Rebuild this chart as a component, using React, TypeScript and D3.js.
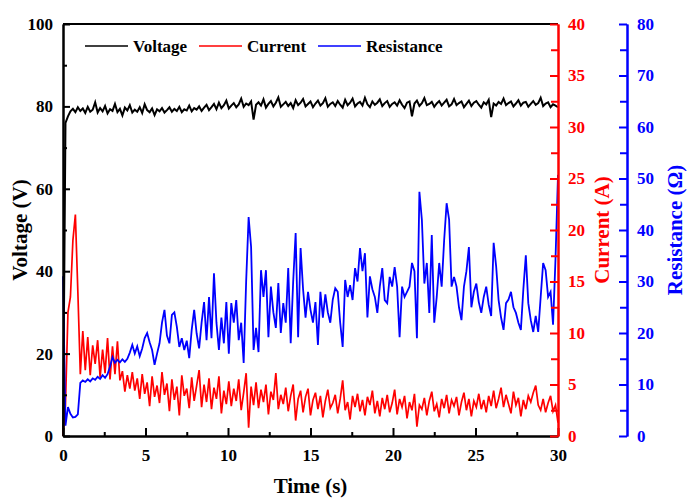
import { useEffect, useRef } from "react"
import * as d3 from "d3"

// sampling step of all three traces (s)
const timeStep = 0.15

const voltage = [
  0, 76.0, 77.6, 78.8, 79.4, 78.6, 79.8, 78.9, 79.5, 78.4,
  79.9, 78.7, 79.2, 81.0, 78.5, 79.6, 78.8, 80.1, 78.3, 79.3,
  78.9, 80.6, 78.6, 79.4, 77.8, 79.7, 79.0, 80.3, 78.5, 79.2,
  78.7, 79.8, 78.4, 80.5, 79.1, 78.6, 79.5, 77.9, 79.3, 78.8,
  79.6, 78.5, 79.1, 79.8, 78.7, 79.4, 78.9, 79.9, 78.6, 79.3,
  79.0, 80.2, 78.8, 79.6, 79.2, 80.0, 78.9, 79.7, 80.4, 79.1,
  79.8, 80.6, 79.3, 80.9, 79.6, 80.3, 81.4, 79.5, 80.2, 80.8,
  79.8, 80.5, 81.9, 79.9, 80.7, 80.3, 81.2, 76.8, 80.4, 81.0,
  80.2, 81.7, 79.7, 80.6, 81.3, 80.0, 80.9, 82.2, 79.9, 80.5,
  81.1, 80.1, 80.8, 79.6, 81.5, 80.3, 80.9, 81.8, 80.0, 80.6,
  81.2, 79.8, 80.7, 81.4, 80.2, 80.8, 82.0, 79.9, 80.6, 81.0,
  80.1, 81.3, 80.4, 79.7, 81.6, 80.3, 80.9, 81.9, 80.0, 80.7,
  81.1, 80.2, 82.1, 80.5, 79.8, 81.2, 80.4, 80.9, 81.7, 80.1,
  80.8, 81.3, 79.9, 80.6, 81.0, 80.2, 81.5, 80.4, 79.6, 80.9,
  81.2, 77.6, 80.7, 81.4, 80.1, 80.8, 82.0, 80.3, 80.6, 81.1,
  79.9, 80.7, 81.3, 80.2, 80.9, 81.6, 80.0, 80.5, 81.8, 80.3,
  80.8, 81.2, 79.8, 80.6, 81.4, 80.1, 80.9, 81.3, 80.4, 79.7,
  81.0, 80.5, 81.6, 77.4, 80.7, 80.2, 81.1, 80.6, 81.9, 80.3,
  80.8, 81.2, 80.0, 80.7, 81.5, 80.2, 80.9, 81.1, 79.9, 80.6,
  81.3, 80.4, 80.8, 82.1, 80.1, 80.7, 81.0, 79.8, 80.5, 80.2,
  79.8,
]

const current = [
  0, 3, 12, 13.5, 19, 21.5, 14, 6, 10.2, 6.4,
  9.6, 5.9, 8.8, 7.0, 9.3, 5.7, 8.4, 6.1, 9.5, 5.5,
  8.7, 6.0, 9.2, 5.4, 6.3, 4.3, 5.9, 4.6, 6.2, 4.4,
  5.6, 3.6, 6.0, 4.1, 5.2, 2.9, 5.8, 3.8, 4.9, 3.2,
  6.2, 4.0, 5.1, 2.4, 5.5, 3.5, 4.8, 2.0, 5.9, 3.9,
  4.6, 2.7, 5.7, 3.4, 4.9, 6.4, 2.8, 5.0, 3.3, 5.6,
  2.6, 4.7, 3.6, 5.8, 2.2, 4.4, 3.1, 5.3, 2.9, 4.6,
  3.4, 5.5, 2.5, 4.2, 6.1, 0.8, 4.8, 3.0, 5.2, 2.7,
  4.5, 3.3, 5.0, 2.1, 4.3, 3.5, 6.1, 2.6, 4.0, 3.1,
  4.7, 2.4, 3.9, 5.0, 1.5, 3.6, 4.4, 2.3, 3.8, 4.6,
  2.0, 3.5, 4.2, 2.6, 3.9, 1.8, 3.4, 4.5, 2.7, 3.2,
  4.0, 2.2, 3.6, 5.4, 2.5, 3.3, 1.6, 3.9, 2.8, 4.1,
  2.4, 3.5, 2.0, 3.8, 3.0, 4.4, 2.2, 3.4, 1.9, 3.7,
  2.6, 4.0, 2.3, 3.2, 4.5, 2.1, 3.6, 2.8, 3.9, 1.7,
  3.3, 2.5, 4.1, 0.9, 3.0, 2.6, 3.7, 2.0, 3.4, 4.3,
  2.4, 3.1, 1.8, 3.6, 2.7, 4.0, 2.2, 3.5, 2.9, 3.8,
  2.0, 3.3, 4.2, 2.5, 3.6, 1.9, 3.4, 2.8, 4.1, 2.6,
  3.5, 2.3, 3.9, 2.9, 4.4, 2.7, 3.6, 4.7, 2.8, 4.0,
  3.1, 2.2, 4.3, 3.0, 3.7, 1.9, 3.5, 2.6, 3.9, 3.3,
  4.2, 4.9, 3.0, 2.5, 3.6, 2.3, 3.2, 3.9, 2.4, 3.0,
  1.3,
]

const resistance = [
  31, 2.0, 5.6, 4.3, 3.6, 3.7, 4.2, 10.3, 10.8, 10.5,
  11.0, 10.6, 11.2, 10.9, 11.5, 11.1, 11.8, 11.3, 12.0, 13.5,
  15.3, 14.2, 14.8, 14.3, 14.9, 14.4, 15.0, 16.2, 17.7, 16.0,
  17.4, 15.5, 17.0, 19.0, 20.0, 18.2, 16.7, 13.8, 16.0, 18.0,
  22.0, 24.5, 19.5, 18.0, 23.5, 24.0, 21.2, 17.3, 19.0, 16.7,
  18.5, 15.1, 20.6, 24.5, 19.9, 17.0, 22.0, 26.0, 18.6, 27.0,
  19.0, 31.6, 22.0, 16.7, 23.0, 18.0, 26.0, 16.0, 25.8, 22.0,
  26.4, 18.6, 22.0, 14.2, 30.0, 42.5, 36.7, 16.7, 21.0, 16.3,
  32.2, 27.0, 32.2, 19.2, 29.0, 24.0, 21.0, 29.7, 20.0, 25.8,
  22.0, 32.6, 18.0, 30.0, 39.4, 19.2, 36.5, 28.5, 23.0, 28.0,
  24.5, 22.0, 26.0, 17.7, 28.0, 23.0, 27.5, 24.0, 22.0, 26.5,
  28.7, 28.0, 22.0, 17.3, 30.3, 27.0, 29.3, 26.4, 32.6, 30.0,
  36.5, 32.0, 35.5, 23.0, 31.0, 28.5, 27.0, 23.9, 29.0, 32.6,
  26.4, 25.8, 30.9, 29.0, 32.8, 29.0, 19.2, 29.0, 27.0, 28.0,
  29.0, 33.6, 32.0, 19.0, 47.4, 42.0, 29.6, 33.6, 23.9, 39.0,
  22.0, 27.0, 33.6, 29.0, 38.0, 45.2, 42.0, 29.0, 30.9, 29.0,
  25.0, 22.5, 29.0, 32.0, 36.7, 25.0, 28.0, 29.6, 26.0, 23.9,
  27.0, 29.0, 25.5, 23.3, 37.5, 33.0, 26.4, 23.0, 20.6, 25.8,
  26.5, 28.0, 25.0, 23.9, 22.0, 20.6, 28.5, 35.1, 25.8, 22.5,
  20.2, 23.3, 20.2, 27.0, 33.6, 32.2, 27.0, 28.0, 21.6, 34.5,
  50.7,
]

const legendItems = [
  { name: "Voltage", color: "#000000" },
  { name: "Current", color: "#ff0000" },
  { name: "Resistance", color: "#0000ff" },
]

export default function App() {
  const svgRef = useRef<SVGSVGElement | null>(null)

  useEffect(() => {
    if (!svgRef.current) return
    const svg = d3.select(svgRef.current)
    svg.selectAll("*").remove()

    const left = 63
    const right = 558
    const top = 24
    const bottom = 436
    const blueAxisX = 627
    const font = "'Liberation Serif', 'Times New Roman', serif"

    const x = d3.scaleLinear().domain([0, 30]).range([left, right])
    const yV = d3.scaleLinear().domain([0, 100]).range([bottom, top])
    const yI = d3.scaleLinear().domain([0, 40]).range([bottom, top])
    const yR = d3.scaleLinear().domain([0, 80]).range([bottom, top])

    const g = svg.append("g")

    // traces
    const drawTrace = (values: number[], y: d3.ScaleLinear<number, number>, color: string, w: number) => {
      const line = d3
        .line<number>()
        .x((_, i) => x(i * timeStep))
        .y((d) => y(d))
      g.append("path")
        .datum(values)
        .attr("fill", "none")
        .attr("stroke", color)
        .attr("stroke-width", w)
        .attr("d", line)
    }
    drawTrace(voltage, yV, "#000000", 2)
    drawTrace(current, yI, "#ff0000", 1.7)
    drawTrace(resistance, yR, "#0000ff", 1.8)

    // top frame
    g.append("line")
      .attr("x1", left).attr("x2", right)
      .attr("y1", top).attr("y2", top)
      .attr("stroke", "#000").attr("stroke-width", 2)

    const styleAxis = (sel: any, color: string, size: number) => {
      sel.selectAll(".domain").attr("stroke", color).attr("stroke-width", 2)
      sel.selectAll(".tick line").attr("stroke", color).attr("stroke-width", 2)
      sel.selectAll("text")
        .attr("fill", color)
        .attr("font-family", font)
        .attr("font-weight", "bold")
        .attr("font-size", size)
    }

    // bottom axis
    const xMinor = g.append("g")
      .attr("transform", `translate(0,${bottom})`)
      .call(d3.axisBottom(x).tickValues(d3.range(2.5, 30, 5)).tickSize(-4).tickSizeOuter(0).tickFormat(() => ""))
    styleAxis(xMinor, "#000", 16)
    const xAxis = g.append("g")
      .attr("transform", `translate(0,${bottom})`)
      .call(d3.axisBottom(x).tickValues(d3.range(0, 31, 5)).tickSize(-8).tickSizeOuter(0).tickPadding(13))
    styleAxis(xAxis, "#000", 17)

    // left voltage axis
    const vMinor = g.append("g")
      .attr("transform", `translate(${left},0)`)
      .call(d3.axisLeft(yV).tickValues(d3.range(10, 100, 20)).tickSize(-4).tickSizeOuter(0).tickFormat(() => ""))
    styleAxis(vMinor, "#000", 16)
    const vAxis = g.append("g")
      .attr("transform", `translate(${left},0)`)
      .call(d3.axisLeft(yV).tickValues(d3.range(0, 101, 20)).tickSize(-7).tickSizeOuter(0).tickPadding(10))
    styleAxis(vAxis, "#000", 17)

    // right current axis
    const iMinor = g.append("g")
      .attr("transform", `translate(${right},0)`)
      .call(d3.axisRight(yI).tickValues(d3.range(2.5, 40, 5)).tickSize(-7).tickSizeOuter(0).tickFormat(() => ""))
    styleAxis(iMinor, "#ff0000", 16)
    const iAxis = g.append("g")
      .attr("transform", `translate(${right},0)`)
      .call(d3.axisRight(yI).tickValues(d3.range(0, 41, 5)).tickSize(-8).tickSizeOuter(0).tickPadding(10))
    styleAxis(iAxis, "#ff0000", 17)

    // outer resistance axis
    const rMinor = g.append("g")
      .attr("transform", `translate(${blueAxisX},0)`)
      .call(d3.axisLeft(yR).tickValues(d3.range(5, 80, 10)).tickSize(7).tickSizeOuter(0).tickFormat(() => ""))
    styleAxis(rMinor, "#0000ff", 16)
    const rAxis = g.append("g")
      .attr("transform", `translate(${blueAxisX},0)`)
      .call(d3.axisRight(yR).tickValues(d3.range(0, 81, 10)).tickSize(-8).tickSizeOuter(0).tickPadding(10))
    styleAxis(rAxis, "#0000ff", 17)

    // axis titles
    const title = (txt: string, tx: number, ty: number, rot: number, color: string) =>
      g.append("text")
        .attr("transform", `translate(${tx},${ty}) rotate(${rot})`)
        .attr("text-anchor", "middle")
        .attr("dominant-baseline", "central")
        .attr("font-family", font)
        .attr("font-weight", "bold")
        .attr("font-size", 21)
        .attr("fill", color)
        .text(txt)
    title("Time (s)", (left + right) / 2, 486, 0, "#000")
    title("Voltage (V)", 20, (top + bottom) / 2, -90, "#000")
    title("Current (A)", 602, (top + bottom) / 2, -90, "#ff0000")
    title("Resistance (Ω)", 675, (top + bottom) / 2, -90, "#0000ff")

    // legend
    const legendX = [85, 199, 318]
    legendItems.forEach((item, i) => {
      g.append("line")
        .attr("x1", legendX[i]).attr("x2", legendX[i] + 43)
        .attr("y1", 46).attr("y2", 46)
        .attr("stroke", item.color).attr("stroke-width", 1.6)
      g.append("text")
        .attr("x", legendX[i] + 48)
        .attr("y", 46)
        .attr("dominant-baseline", "central")
        .attr("font-family", font)
        .attr("font-weight", "bold")
        .attr("font-size", 17)
        .attr("fill", "#000")
        .text(item.name)
    })
  }, [])

  return (
    <svg
      ref={svgRef}
      width={700}
      height={503}
      style={{ position: "absolute", left: 0, top: 0, background: "#fff" }}
    ></svg>
  )
}
